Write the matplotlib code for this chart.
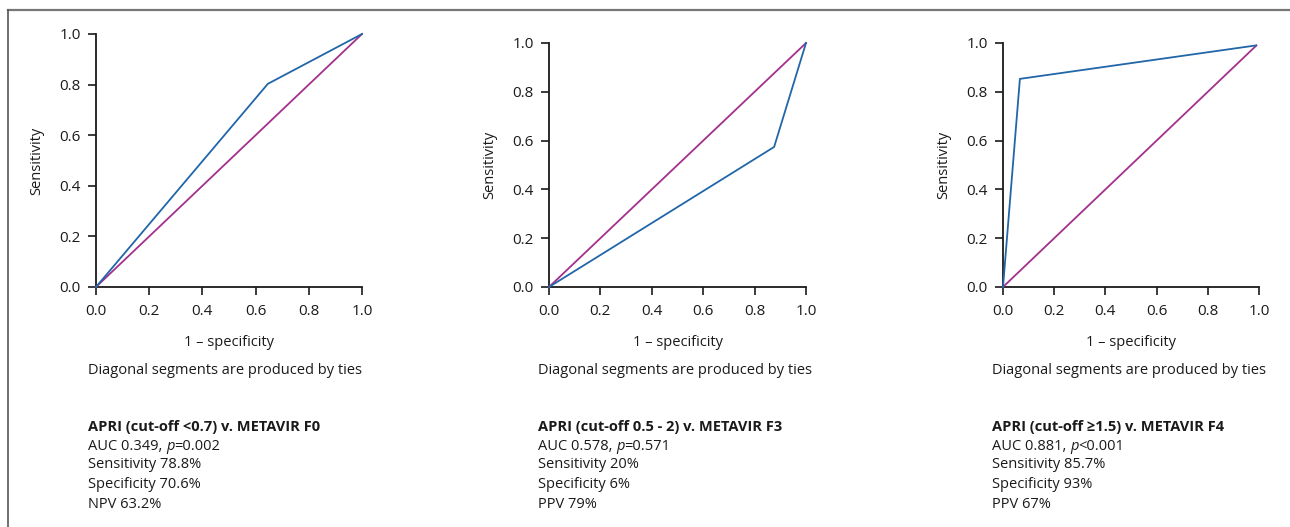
import matplotlib
matplotlib.use("Agg")
import matplotlib.pyplot as plt
from matplotlib.lines import Line2D

plt.rcParams['font.family'] = ['Open Sans', 'DejaVu Sans']
plt.rcParams['mathtext.fontset'] = 'custom'
plt.rcParams['mathtext.rm'] = 'Open Sans'
plt.rcParams['mathtext.it'] = 'Open Sans:italic'

W, H = 1290, 527

# ROC data (1 - specificity, sensitivity)
roc1_x = [0.0, 0.646, 1.0]
roc1_y = [0.0, 0.803, 1.0]
roc2_x = [0.0, 0.876, 1.0]
roc2_y = [0.0, 0.574, 1.0]
roc3_x = [0.0, 0.066, 0.988]
roc3_y = [0.0, 0.853, 0.99]
ref1 = [0.0, 1.0]
ref2 = [0.0, 1.0]
ref3 = [0.0, 0.99]

ticks = [0.0, 0.2, 0.4, 0.6, 0.8, 1.0]
tick_labels = ["0.0", "0.2", "0.4", "0.6", "0.8", "1.0"]

titles = ["APRI (cut-off <0.7) v. METAVIR F0",
          "APRI (cut-off 0.5 - 2) v. METAVIR F3",
          "APRI (cut-off \u22651.5) v. METAVIR F4"]
auc_pre = ["AUC 0.349, ", "AUC 0.578, ", "AUC 0.881, "]
auc_post = ["=0.002", "=0.571", "<0.001"]
stats = [["Sensitivity 78.8%", "Specificity 70.6%", "NPV 63.2%"],
         ["Sensitivity 20%", "Specificity 6%", "PPV 79%"],
         ["Sensitivity 85.7%", "Specificity 93%", "PPV 67%"]]

BLUE = "#2166a8"
PURPLE = "#a3308c"
TXT = '#1a1a1a'
FS = 10.5

fig = plt.figure(figsize=(W / 100, H / 100), dpi=100)

# axes boxes in pixels: left, right, top, bottom
boxes = [(96, 362, 34, 287), (549, 806, 43, 287), (1003, 1259, 43, 287)]
text_left = [88, 538, 992]
ylab_x = [37, 490, 944]
rocs = [(roc1_x, roc1_y, ref1), (roc2_x, roc2_y, ref2), (roc3_x, roc3_y, ref3)]

def fx(x):
    return x / W

def fy(y):
    return 1 - y / H

fig.canvas.draw()
renderer = fig.canvas.get_renderer()

for i, (l, r, t, b) in enumerate(boxes):
    ax = fig.add_axes([fx(l), fy(b), (r - l) / W, (b - t) / H])
    rx, ry, ref = rocs[i]
    ax.plot(ref, ref, color=PURPLE, lw=1.3, clip_on=False, zorder=3)
    ax.plot(rx, ry, color=BLUE, lw=1.3, clip_on=False, zorder=4)
    ax.set_xlim(0, 1)
    ax.set_ylim(0, 1)
    ax.set_xticks(ticks)
    ax.set_xticklabels(tick_labels)
    ax.set_yticks(ticks)
    ax.set_yticklabels(tick_labels)
    for s in ['top', 'right']:
        ax.spines[s].set_visible(False)
    for s in ['left', 'bottom']:
        ax.spines[s].set_linewidth(1.3)
        ax.spines[s].set_color(TXT)
    ax.tick_params(direction='out', length=6, width=1.2, labelsize=11,
                   colors=TXT)
    ax.tick_params(axis='x', pad=6)
    ax.tick_params(axis='y', pad=5)
    ax.patch.set_visible(False)

    cx = (l + r) / 2
    fig.text(fx(cx), fy(342), "1 \u2013 specificity", ha='center', va='center', fontsize=FS, color=TXT)
    fig.text(fx(ylab_x[i]), fy((t + b) / 2), "Sensitivity", ha='center', va='center',
             rotation=90, fontsize=FS, color=TXT)
    fig.text(fx(text_left[i]), fy(371), "Diagonal segments are produced by ties",
             ha='left', va='center', fontsize=FS, color=TXT)
    fig.text(fx(text_left[i]), fy(427), titles[i], ha='left', va='center',
             fontsize=FS, fontweight='bold', color=TXT)
    # AUC line with italic p
    t1 = fig.text(fx(text_left[i]), fy(446), auc_pre[i], ha='left', va='center',
                  fontsize=FS, color=TXT)
    w1 = t1.get_window_extent(renderer).width
    t2 = fig.text(fx(text_left[i] + w1), fy(446), "p", ha='left', va='center',
                  fontsize=FS, color=TXT, style='italic')
    w2 = t2.get_window_extent(renderer).width
    fig.text(fx(text_left[i] + w1 + w2), fy(446), auc_post[i], ha='left', va='center',
             fontsize=FS, color=TXT)
    for j, line in enumerate(stats[i]):
        fig.text(fx(text_left[i]), fy(465 + j * 19.5), line, ha='left', va='center',
                 fontsize=FS, color=TXT)

# frame lines
fig.add_artist(Line2D([fx(8), 1.0], [fy(10), fy(10)], color='#777777', lw=1.6))
fig.add_artist(Line2D([fx(8), fx(8)], [fy(10), 0.0], color='#555555', lw=1.2))

fig.savefig("out.png", dpi=100)
